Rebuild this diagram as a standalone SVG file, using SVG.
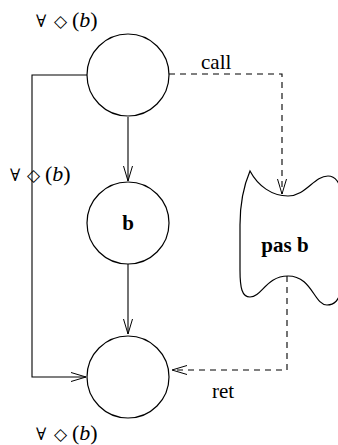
<svg xmlns="http://www.w3.org/2000/svg" width="338" height="445" viewBox="0 0 338 445">
<defs>
<marker id="arr" markerUnits="userSpaceOnUse" markerWidth="18" markerHeight="12" refX="16" refY="6" orient="auto">
<path d="M1,1.5 L16,6 L1,10.5" fill="none" stroke="#000" stroke-width="1"/>
</marker>
</defs>
<style>
.n{fill:none;stroke:#000;stroke-width:1.2}
.c{fill:none;stroke:#000;stroke-width:1.1}
.d{stroke-dasharray:6,5}
.t{font-family:"Liberation Serif","DejaVu Serif",serif;font-size:21px;fill:#000}
.m{font-family:"DejaVu Serif","Liberation Serif",serif;font-size:17px;fill:#000}
.p{font-family:"Liberation Serif",serif;font-size:22px}
.b{font-weight:bold;font-size:21px}
.i{font-style:italic}
</style>
<rect width="338" height="445" fill="#fff"/>
<g id="connectors">
<path class="c" d="M87,75 H32 V377 H86" marker-end="url(#arr)"/>
<path class="c" d="M128,117 V181" marker-end="url(#arr)"/>
<path class="c" d="M128,264 V334" marker-end="url(#arr)"/>
<path class="c d" d="M169,74 H282 V194" marker-end="url(#arr)"/>
<path class="c d" d="M287,276 V370 H172" marker-end="url(#arr)"/>
<text class="t" x="201" y="69">call</text>
<text class="t" x="212" y="398">ret</text>
<text class="m" y="181"><tspan x="10">∀</tspan><tspan x="27">◇</tspan><tspan class="p" x="45">(</tspan><tspan class="p i">b</tspan><tspan class="p">)</tspan></text>
</g>
<g id="n1">
<circle class="n" cx="128" cy="75" r="41"/>
<text class="m" y="27"><tspan x="36">∀</tspan><tspan x="54">◇</tspan><tspan class="p" x="72">(</tspan><tspan class="p i">b</tspan><tspan class="p">)</tspan></text>
</g>
<g id="n2">
<circle class="n" cx="128" cy="223" r="41"/>
<text class="t b" x="128" y="230" text-anchor="middle">b</text>
</g>
<g id="n3">
<circle class="n" cx="128" cy="377" r="41"/>
<text class="m" y="440"><tspan x="36">∀</tspan><tspan x="54">◇</tspan><tspan class="p" x="72">(</tspan><tspan class="p i">b</tspan><tspan class="p">)</tspan></text>
</g>
<g id="pas">
<path class="n" d="M250,171 C258,186 272,196 288,196 C306,196 314,176 328,176 C336,176 340,184 340,190 L340,290 C340,300 334,305 327,305 C314,305 312,276 288,276 C266,276 262,297 250,297 C242,297 240,288 240,270 L240,225 C240,200 244,185 250,171 Z"/>
<text class="t b" x="285" y="252" text-anchor="middle">pas b</text>
</g>
</svg>
